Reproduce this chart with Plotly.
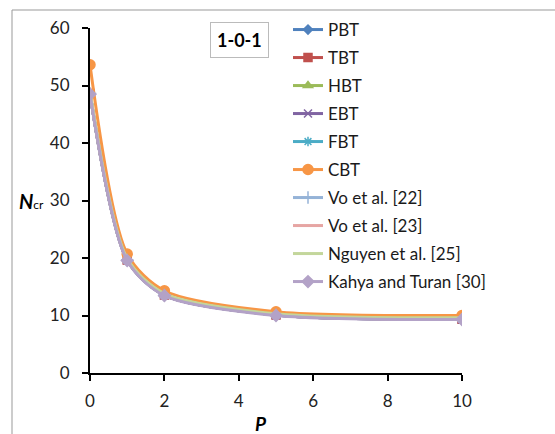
import plotly.graph_objects as go

P = [0, 1, 2, 5, 10]
names = ["PBT", "TBT", "HBT", "EBT", "FBT", "CBT",
         "Vo et al. [22]", "Vo et al. [23]", "Nguyen et al. [25]", "Kahya and Turan [30]"]
PBT = [48.6, 19.65, 13.55, 10.1, 9.35]
TBT = [48.6, 19.65, 13.55, 10.1, 9.35]
HBT = [48.7, 19.7, 13.6, 10.15, 9.4]
EBT = [48.6, 19.65, 13.55, 10.1, 9.35]
FBT = [48.6, 19.65, 13.55, 10.1, 9.35]
CBT = [53.6, 20.7, 14.3, 10.65, 10.0]
Vo22 = [48.6, 19.65, 13.55, 10.1, 9.35]
Vo23 = [48.6, 19.65, 13.55, 10.1, 9.35]
Nguyen25 = [49.0, 19.9, 13.8, 10.3, 9.6]
Kahya30 = [48.5, 19.55, 13.45, 10.0, 9.3]
series = [PBT, TBT, HBT, EBT, FBT, CBT, Vo22, Vo23, Nguyen25, Kahya30]

colors = ["#4F81BD", "#C0504D", "#9BBB59", "#8064A2", "#4BACC6", "#F79646",
          "#95B3D7", "#E6A5A3", "#C3D69B", "#B3A2C7"]
symbols = ["diamond", "square", "triangle-up", "x-thin", "asterisk", "circle",
           "cross-thin", None, None, "diamond"]
sizes = [7, 8, 8, 8, 8, 10, 9, 0, 0, 9]

PLOT_L, PLOT_W, PLOT_B, PLOT_H = 90, 372, 373, 345

fig = go.Figure()
legends = {}
for i, (nm, ys, c, s, sz) in enumerate(zip(names, series, colors, symbols, sizes)):
    if s is None:
        mode = "lines"
        marker = None
    else:
        mode = "lines+markers"
        marker = dict(symbol=s, size=sz, color=c, line=dict(color=c, width=1.5))
    lg = "legend" if i == 0 else f"legend{i + 1}"
    fig.add_trace(go.Scatter(x=P, y=ys, name=nm, mode=mode, marker=marker, legend=lg,
                             line=dict(color=c, width=3, shape="spline", smoothing=0.8)))
    legends[lg] = dict(x=(288 - PLOT_L) / PLOT_W, y=(PLOT_B - (30 + 28 * i)) / PLOT_H,
                       xanchor="left", yanchor="middle", bgcolor="rgba(0,0,0,0)",
                       font=dict(size=17, color="#1a1a1a"), itemwidth=30)

fig.update_layout(
    width=555, height=434,
    margin=dict(l=90, r=93, t=28, b=61),
    paper_bgcolor="white", plot_bgcolor="white",
    font=dict(family="Lato, Liberation Sans, sans-serif", size=15, color="#222"),
    showlegend=True,
    xaxis=dict(range=[0, 10], tickvals=[0, 2, 4, 6, 8, 10], showgrid=False, zeroline=False,
               showline=True, linecolor="black", linewidth=2, ticks="outside",
               ticklen=6, tickwidth=2, tickcolor="black", tickfont=dict(size=17),
               ticklabelstandoff=6),
    yaxis=dict(range=[0, 60], tickvals=[0, 10, 20, 30, 40, 50, 60], showgrid=False, zeroline=False,
               showline=True, linecolor="black", linewidth=2, ticks="outside",
               ticklen=6, tickwidth=2, tickcolor="black", tickfont=dict(size=17),
               ticklabelstandoff=9),
    annotations=[
        dict(text="<b>1-0-1</b>", x=(239 - 90) / 372, y=(373 - 40) / 345, xref="paper", yref="paper",
             xanchor="center", yanchor="middle",
             showarrow=False, font=dict(size=18, color="black"), bordercolor="#BBBBBB",
             borderwidth=1, borderpad=6, bgcolor="white"),
        dict(text="<b><i>N</i></b><span style='font-size:12px'>cr</span>", x=(31 - 90) / 372,
             y=(373 - 201) / 345, xref="paper", yref="paper", showarrow=False,
             xanchor="center", yanchor="middle", font=dict(size=20, color="black")),
        dict(text="<b><i>P</i></b>", x=(261 - 90) / 372, y=(373 - 423) / 345, xref="paper", yref="paper",
             xanchor="center", yanchor="middle",
             showarrow=False, font=dict(size=19, color="black")),
    ],
    shapes=[dict(type="rect", xref="paper", yref="paper",
                 x0=(12 - 90) / 372, x1=1.5, y0=-0.5, y1=(373 - 10) / 345,
                 line=dict(color="#999999", width=1), layer="below")],
)
fig.update_layout(**legends)

fig.write_html("out.html")
